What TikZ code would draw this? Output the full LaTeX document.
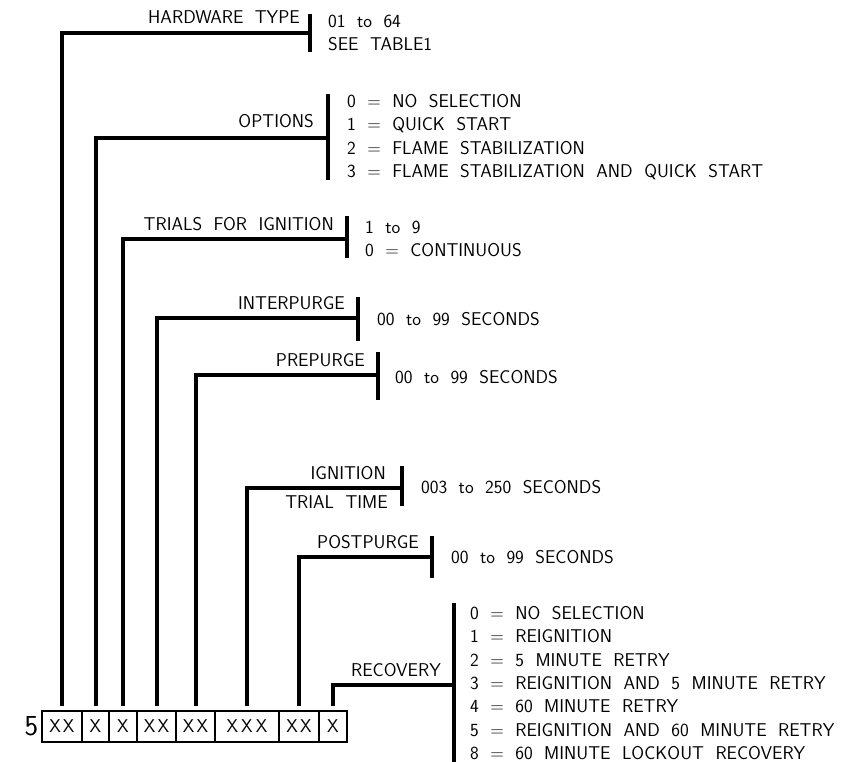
\documentclass[tikz,border=0pt]{standalone}
\begin{document}
\begin{tikzpicture}[x=1pt,y=-1pt,
 txt/.style={font=\fontsize{18.5}{23.4}\selectfont\sffamily, inner sep=0pt, execute at begin node={\spaceskip=0.62em\relax}},
 lbl/.style={txt, anchor=base east},
 val/.style={txt, anchor=west, align=left},
 cell/.style={draw, line width=1.2pt, minimum height=31pt, inner sep=0pt, txt},
 lead/.style={line width=4pt},
 barline/.style={line width=4pt}]
\useasboundingbox (0,0) rectangle (867,762);

% code boxes
\node[cell, minimum width=40pt] (c1) at (62,726.5) {X\hspace{2pt}X};
\node[cell, minimum width=27pt] (c2) at (95.5,726.5) {X};
\node[cell, minimum width=28pt] (c3) at (123,726.5) {X};
\node[cell, minimum width=39pt] (c4) at (156.5,726.5) {X\hspace{2pt}X};
\node[cell, minimum width=39pt] (c5) at (195.5,726.5) {X\hspace{2pt}X};
\node[cell, minimum width=64pt] (c6) at (247,726.5) {X\hspace{3pt}X\hspace{3pt}X};
\node[cell, minimum width=40pt] (c7) at (299,726.5) {X\hspace{2pt}X};
\node[cell, minimum width=28pt] (c8) at (333,726.5) {X};
\node[txt, font=\fontsize{29}{30}\selectfont\sffamily, anchor=east] (five) at ([xshift=-3pt]c1.west) {5};

% hardware type
\coordinate (j1) at (310,33); \coordinate (t1) at (310,14); \coordinate (e1) at (310,52);
\draw[lead] ([yshift=4pt]c1.north) |- (j1);
\draw[barline] (t1) -- (e1);
\node[lbl] (l1) at (300,24) {HARDWARE TYPE};
\node[val] (v1) at (328,33) {01 to 64\\SEE TABLE1};

% options
\coordinate (j2) at (328,138); \coordinate (t2) at (328,94); \coordinate (e2) at (328,180);
\draw[lead] ([yshift=4pt]c2.north) |- (j2);
\draw[barline] (t2) -- (e2);
\node[lbl] (l2) at (314,128) {OPTIONS};
\node[val] (v2) at (347,137) {0 = NO SELECTION\\1 = QUICK START\\2 = FLAME STABILIZATION\\3 = FLAME STABILIZATION AND QUICK START};

% trials for ignition
\coordinate (j3) at (347,239); \coordinate (t3) at (347,216); \coordinate (e3) at (347,258);
\draw[lead] ([yshift=4pt]c3.north) |- (j3);
\draw[barline] (t3) -- (e3);
\node[lbl] (l3) at (334,230) {TRIALS FOR IGNITION};
\node[val] (v3) at (365,239) {1 to 9\\0 = CONTINUOUS};

% interpurge
\coordinate (j4) at (358,318); \coordinate (t4) at (358,297); \coordinate (e4) at (358,341);
\draw[lead] ([yshift=4pt]c4.north) |- (j4);
\draw[barline] (t4) -- (e4);
\node[lbl] (l4) at (345,309) {INTERPURGE};
\node[val] (v4) at (377,319) {00 to 99 SECONDS};

% prepurge
\coordinate (j5) at (378,375); \coordinate (t5) at (378,352); \coordinate (e5) at (378,400);
\draw[lead] ([yshift=4pt]c5.north) |- (j5);
\draw[barline] (t5) -- (e5);
\node[lbl] (l5) at (365,366) {PREPURGE};
\node[val] (v5) at (395,377) {00 to 99 SECONDS};

% ignition trial time
\coordinate (j6) at (402,488); \coordinate (t6) at (402,466); \coordinate (e6) at (402,506);
\draw[lead] ([yshift=4pt]c6.north) |- (j6);
\draw[barline] (t6) -- (e6);
\node[lbl] (l6) at (386,479) {IGNITION};
\node[lbl] (l6b) at (388,508) {TRIAL TIME};
\node[val] (v6) at (421,487) {003 to 250 SECONDS};

% postpurge
\coordinate (j7) at (432,557); \coordinate (t7) at (432,536); \coordinate (e7) at (432,578);
\draw[lead] ([yshift=4pt]c7.north) |- (j7);
\draw[barline] (t7) -- (e7);
\node[lbl] (l7) at (419,548) {POSTPURGE};
\node[val] (v7) at (451,557) {00 to 99 SECONDS};

% recovery
\coordinate (j8) at (454,685); \coordinate (t8) at (454,603); \coordinate (e8) at (454,762);
\draw[lead] ([yshift=4pt]c8.north) |- (j8);
\draw[barline] (t8) -- (e8);
\node[lbl] (l8) at (441,676) {RECOVERY};
\node[val] (v8) at (470,683) {0 = NO SELECTION\\1 = REIGNITION\\2 = 5 MINUTE RETRY\\3 = REIGNITION AND 5 MINUTE RETRY\\4 = 60 MINUTE RETRY\\5 = REIGNITION AND 60 MINUTE RETRY\\8 = 60 MINUTE LOCKOUT RECOVERY};
\end{tikzpicture}
\end{document}
